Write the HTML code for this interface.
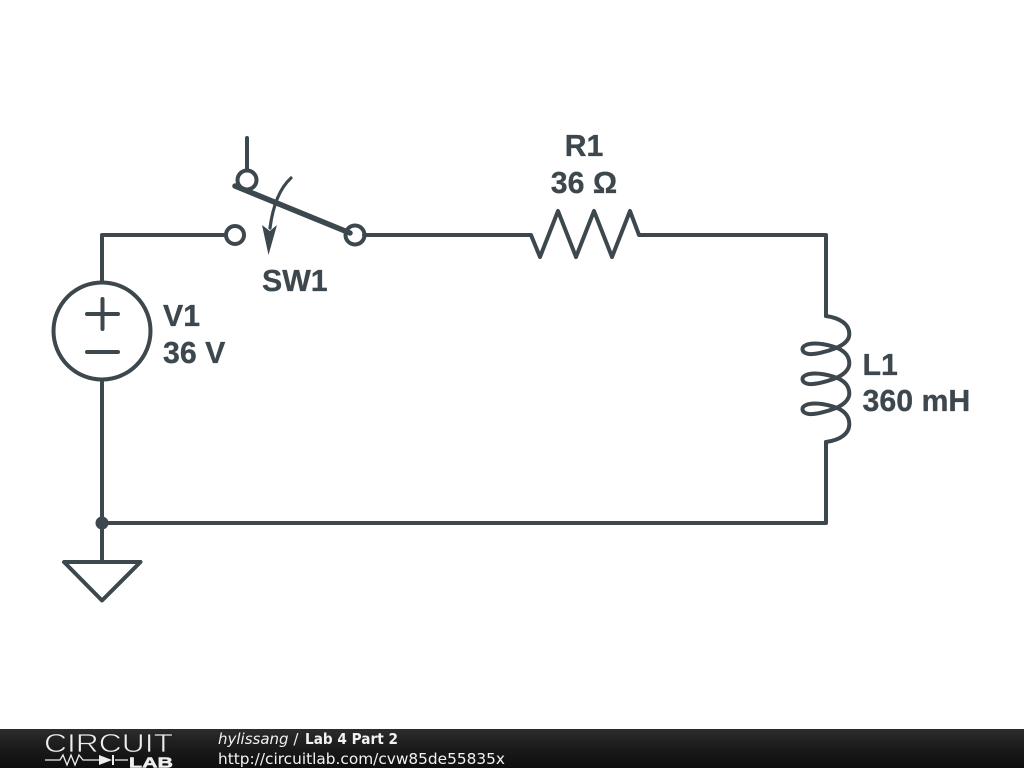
<!DOCTYPE html>
<html><head><meta charset="utf-8"><style>
html,body{margin:0;padding:0;background:#fff;width:1024px;height:768px;overflow:hidden}
svg{display:block}
.l{font-family:"Liberation Sans",Arial,sans-serif;font-weight:bold;font-size:30.3px;fill:#3d474e;stroke:#3d474e;stroke-width:0.3px}
.f{font-family:"DejaVu Sans",sans-serif;font-size:15px;fill:#f2f2f2}
</style></head><body>
<svg width="1024" height="768" viewBox="0 0 1024 768" xmlns="http://www.w3.org/2000/svg">
<defs><linearGradient id="g" x1="0" y1="0" x2="0" y2="1"><stop offset="0" stop-color="#2c2c2c"/><stop offset="0.5" stop-color="#1a1a1a"/><stop offset="1" stop-color="#0e0e0e"/></linearGradient></defs>
<g fill="none" stroke="#3d474e" stroke-width="4" stroke-linecap="round" stroke-linejoin="round">
<path d="M102 282V235H226"/>
<path d="M102 380V562"/>
<path d="M102 523H826V442"/>
<path d="M364 235H531L540 257L558 211L576 257L594 211L612 257L630 211L639 235H826V316"/>
<circle cx="102" cy="331" r="48.5"/>
<path d="M87 314H118M102.500 299V329M87 352H118"/>
<circle cx="235" cy="235" r="9"/>
<circle cx="355" cy="235" r="9.500"/>
<circle cx="247" cy="180" r="9.500"/>
<path d="M247 138V170"/>
<path d="M235 186L350 233" stroke-width="5.500"/>
<path d="M291 178C280 188 273 205 270 228" stroke-width="3.200"/>
<path d="M64 562H140.500L102 600.500Z"/>
<path d="M826 316C840 318 849.300 324 849.300 334C849.300 341 843 345 836 348C826 352 815 354.500 809 354C804.500 353.500 802.500 351.500 802.500 349C802.500 346 807 343.500 815 343.500C822 343.500 828 345 833 346.500C843 349.500 849.300 355 849.300 363.500C849.300 370 843 375 836 378C826 382 815 384.500 809 384C804.500 383.500 802.500 381.500 802.500 379C802.500 376 807 373.500 815 373.500C822 373.500 828 375 833 376.500C843 379.500 849.300 385 849.300 393.500C849.300 400 843 405 836 408C826 412 815 414.500 809 414C804.500 413.500 802.500 411.500 802.500 409C802.500 406 807 403.500 815 403.500C822 403.500 828 405 833 406.500C843 409.500 849.300 415 849.300 424C849.300 434 840 440 826 442"/>
</g>
<path d="M268.500 255L262 225L269.800 231L277 225Z" fill="#3d474e"/>
<circle cx="102" cy="523" r="6.500" fill="#3d474e"/>
<text class="l" x="584" y="156" text-anchor="middle">R1</text>
<text class="l" x="584" y="193" text-anchor="middle">36 Ω</text>
<text class="l" x="262" y="291">SW1</text>
<text class="l" x="163" y="326">V1</text>
<text class="l" x="163" y="363">36 V</text>
<text class="l" x="862.500" y="375">L1</text>
<text class="l" x="862.500" y="411">360 mH</text>
<rect x="0" y="729" width="1024" height="39" fill="url(#g)"/>
<text x="44" y="752" font-family="'Liberation Sans',sans-serif" font-size="26" fill="#eee" stroke="#1f1f1f" stroke-width="0.7" textLength="129" lengthAdjust="spacingAndGlyphs">CIRCUIT</text>
<path d="M45 760H60L63 755L67 765L71 755L75 765L79 755L83 760H99M115 760H128" fill="none" stroke="#eee" stroke-width="1.300"/>
<path d="M99 755L112 760L99 765Z" fill="#eee"/><path d="M113 755V765" stroke="#eee" stroke-width="2"/>
<text x="129" y="767.500" font-family="'Liberation Sans',sans-serif" font-weight="bold" font-size="15" fill="#eee" stroke="#eee" stroke-width="0.5" textLength="44" lengthAdjust="spacingAndGlyphs">LAB</text>
<text class="f" x="218" y="744"><tspan font-style="italic">hylissang</tspan> / <tspan font-weight="bold" x="305" textLength="93" lengthAdjust="spacingAndGlyphs">Lab 4 Part 2</tspan></text>
<text class="f" x="218" y="764" textLength="287" lengthAdjust="spacingAndGlyphs">http://circuitlab.com/cvw85de55835x</text>
</svg>
</body></html>
